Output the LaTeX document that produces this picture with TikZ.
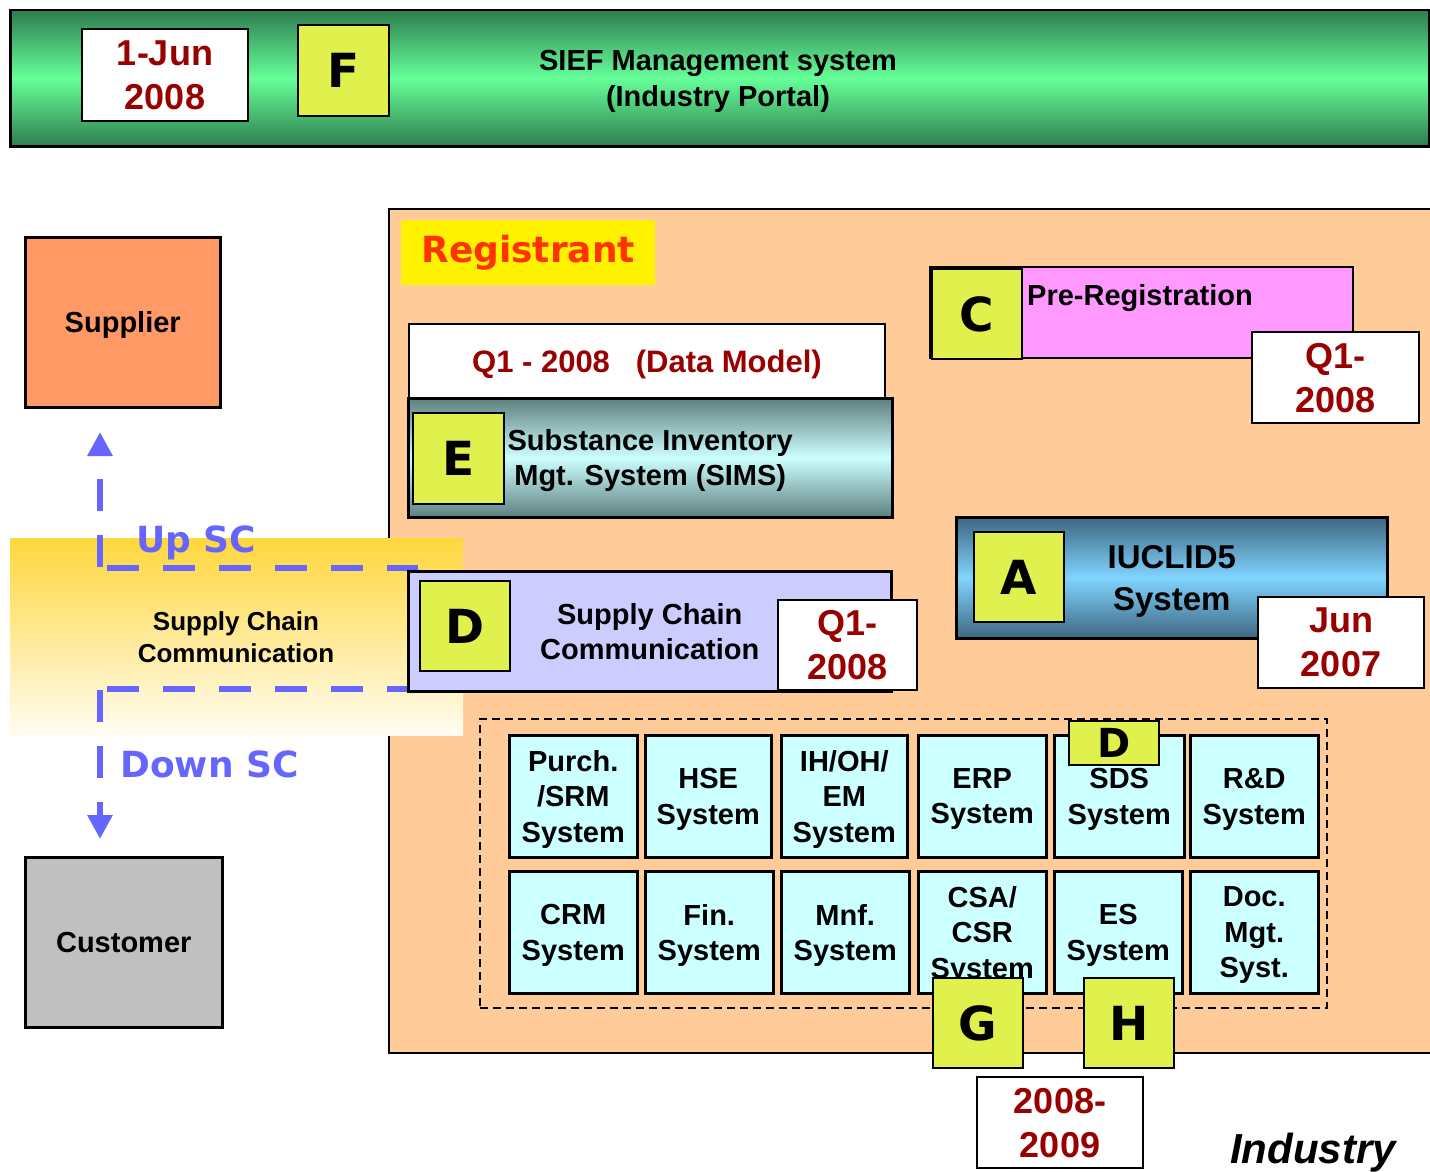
\documentclass[tikz,border=0pt]{standalone}
\usepackage{fontspec}
\setmainfont{Liberation Sans}
\newfontfamily\dejavu{DejaVu Sans}
\usetikzlibrary{arrows.meta}
\definecolor{darkred}{RGB}{153,0,0}
\definecolor{lettery}{RGB}{224,240,76}
\definecolor{peach}{RGB}{255,204,153}
\definecolor{pinkish}{RGB}{255,153,255}
\definecolor{lavender}{RGB}{204,204,255}
\definecolor{paleblue}{RGB}{204,255,255}
\definecolor{salmon}{RGB}{255,153,102}
\definecolor{custgray}{RGB}{192,192,192}
\definecolor{scblue}{RGB}{102,102,255}
\definecolor{regred}{RGB}{255,51,0}
\definecolor{greendark}{RGB}{46,125,80}
\definecolor{greenlight}{RGB}{102,255,153}
\definecolor{slate}{RGB}{95,127,127}
\definecolor{steel}{RGB}{62,102,128}
\definecolor{sky}{RGB}{128,212,255}
\definecolor{bandtop}{RGB}{255,215,60}
\definecolor{bandbot}{RGB}{255,252,242}
\newcommand{\fsz}[2]{\fontsize{#1pt}{#2pt}\selectfont}

\tikzset{
  outlined/.style={draw, line width=2pt, inner sep=0pt, anchor=north west, align=center, text depth=0pt},
  letterbox/.style={outlined, fill=lettery, minimum width=90pt, minimum height=90pt, font=\dejavu\bfseries\fsz{47}{50}},
  datebox/.style={outlined, fill=white, text=darkred, font=\bfseries\fsz{36}{44}},
  sysbox/.style={outlined, line width=2.5pt, fill=paleblue, minimum height=122pt, font=\bfseries\fsz{29}{35.5}},
  scline/.style={scblue, line width=6pt, dash pattern=on 32pt off 24pt},
  sctext/.style={anchor=base west, inner sep=0pt, text=scblue, font=\dejavu\bfseries\fsz{36}{40}}
}

\begin{document}
\begin{tikzpicture}[x=1pt,y=-1pt]
  \useasboundingbox (0,0) rectangle (1430,1172);

  \node[outlined, line width=2.5pt, minimum width=1419pt, minimum height=136pt,
        top color=greendark, bottom color=greendark, middle color=greenlight] (portal) at (9,9) {};
  \node[datebox, minimum width=166pt, minimum height=92pt] (portaldate) at (81,28) {1-Jun\\2008};
  \node[letterbox, minimum width=91pt, minimum height=91pt] (F) at (297,24) {F};
  \node[font=\bfseries\fsz{29}{36}, align=center, text depth=0pt] (portaltext) at (718,78) {SIEF Management system\\(Industry Portal)};

  \node[outlined, line width=1.5pt, fill=peach, minimum width=1050pt, minimum height=844pt] (registrant) at (388,208) {};

  \node[outlined, line width=2.5pt, fill=salmon, minimum width=195pt, minimum height=170pt,
        font=\bfseries\fsz{29}{35}] (supplier) at (24,236) {Supplier};
  \node[outlined, line width=2.5pt, fill=custgray, minimum width=197pt, minimum height=170pt,
        font=\bfseries\fsz{29}{35}] (customer) at (24,856) {Customer};

  \node[anchor=north west, inner sep=0pt, minimum width=453pt, minimum height=197pt,
        top color=bandtop, bottom color=bandbot] (band) at (10,538) {};
  \node[font=\bfseries\fsz{26}{32}, align=center] (bandtext) at (236,637) {Supply Chain\\Communication};

  \coordinate (uphookL) at (107,568);
  \coordinate (uphookR) at (418,568);
  \coordinate (upstart) at (100,567);
  \coordinate (uptip) at (100,432);
  \coordinate (downhookL) at (107,689);
  \coordinate (downhookR) at (418,689);
  \coordinate (downstart) at (100,690);
  \coordinate (downtip) at (100,839);
  \draw[scline] (uphookL) -- (uphookR);
  \draw[scline, -{Triangle[length=24pt,width=24pt]}] (upstart) -- (uptip);
  \draw[scline] (downhookL) -- (downhookR);
  \draw[scline, -{Triangle[length=24pt,width=24pt]}] (downstart) -- (downtip);
  \node[sctext] (upsc) at (136,552) {Up SC};
  \node[sctext] (downsc) at (120,777) {Down SC};

  \node[anchor=north west, inner sep=0pt, fill=yellow, minimum width=254pt, minimum height=65pt,
        text=regred, font=\dejavu\bfseries\fsz{36}{40}] (regtag) at (401,220) {Registrant};

  \node[datebox, minimum width=476pt, minimum height=75pt, font=\bfseries\fsz{31}{36}] (datamodel) at (408,323) {Q1 - 2008~~~(Data Model)};
  \node[outlined, line width=2.5pt, minimum width=484pt, minimum height=119pt,
        top color=slate, bottom color=slate, middle color=paleblue,
        font=\bfseries\fsz{29}{35}] (sims) at (407,397) {Substance Inventory\\Mgt. System (SIMS)};
  \node[letterbox, minimum width=91pt, minimum height=91pt] (E) at (412,412) {E};

  \node[outlined, fill=pinkish, minimum width=423pt, minimum height=91pt] (prereg) at (929,266) {};
  \node[letterbox] (C) at (931,268) {C};
  \node[anchor=west, inner sep=0pt, font=\bfseries\fsz{29}{35}] (preregtext) at (1027,298) {Pre-Registration};
  \node[datebox, minimum width=167pt, minimum height=91pt] (preregdate) at (1251,331) {Q1-\\2008};

  \node[outlined, line width=2.5pt, minimum width=431pt, minimum height=121pt,
        top color=steel, bottom color=steel, middle color=sky,
        font=\bfseries\fsz{33}{42}] (iuclid) at (955,516) {IUCLID5\\System};
  \node[letterbox] (A) at (973,531) {A};
  \node[datebox, minimum width=166pt, minimum height=91pt] (iucliddate) at (1257,596) {Jun\\2007};

  \node[outlined, line width=2.5pt, fill=lavender, minimum width=483pt, minimum height=120pt,
        font=\bfseries\fsz{29}{35}] (scc) at (407,570) {Supply Chain\\Communication};
  \node[letterbox] (D) at (419,580) {D};
  \node[datebox, minimum width=139pt, minimum height=90pt] (sccdate) at (777,599) {Q1-\\2008};

  \node[draw, line width=1.5pt, dash pattern=on 8pt off 5pt, anchor=north west, inner sep=0pt,
        minimum width=847pt, minimum height=289pt] (itsystems) at (479,718) {};

  \node[sysbox, minimum width=128pt] (purch) at (508,734) {Purch.\\/SRM\\System};
  \node[sysbox, minimum width=126pt] (hse) at (644,734) {HSE\\System};
  \node[sysbox, minimum width=126pt] (ihoh) at (780,734) {IH/OH/\\EM\\System};
  \node[sysbox, minimum width=128pt] (erp) at (917,734) {ERP\\System};
  \node[sysbox, minimum width=130pt] (sds) at (1053,734) {SDS\\System};
  \node[sysbox, minimum width=128pt] (rnd) at (1189,734) {R\&D\\System};
  \node[sysbox, minimum width=128pt] (crm) at (508,870) {CRM\\System};
  \node[sysbox, minimum width=128pt] (fin) at (644,870) {Fin.\\System};
  \node[sysbox, minimum width=128pt] (mnf) at (780,870) {Mnf.\\System};
  \node[sysbox, minimum width=128pt] (csa) at (917,870) {CSA/\\CSR\\System};
  \node[sysbox, minimum width=128pt] (es) at (1053,870) {ES\\System};
  \node[sysbox, minimum width=128pt] (doc) at (1189,870) {Doc.\\Mgt.\\Syst.};

  \node[letterbox, minimum height=44pt, font=\dejavu\bfseries\fsz{40}{44}] (sdsD) at (1068,720) {D};
  \node[letterbox] (G) at (932,977) {G};
  \node[letterbox] (H) at (1083,977) {H};
  \node[datebox, minimum width=166pt, minimum height=91pt] (gdate) at (976,1076) {2008-\\2009};

  \node[anchor=base west, inner sep=0pt, font=\bfseries\itshape\fsz{42}{46}] (industry) at (1230,1163) {Industry};
\end{tikzpicture}
\end{document}
